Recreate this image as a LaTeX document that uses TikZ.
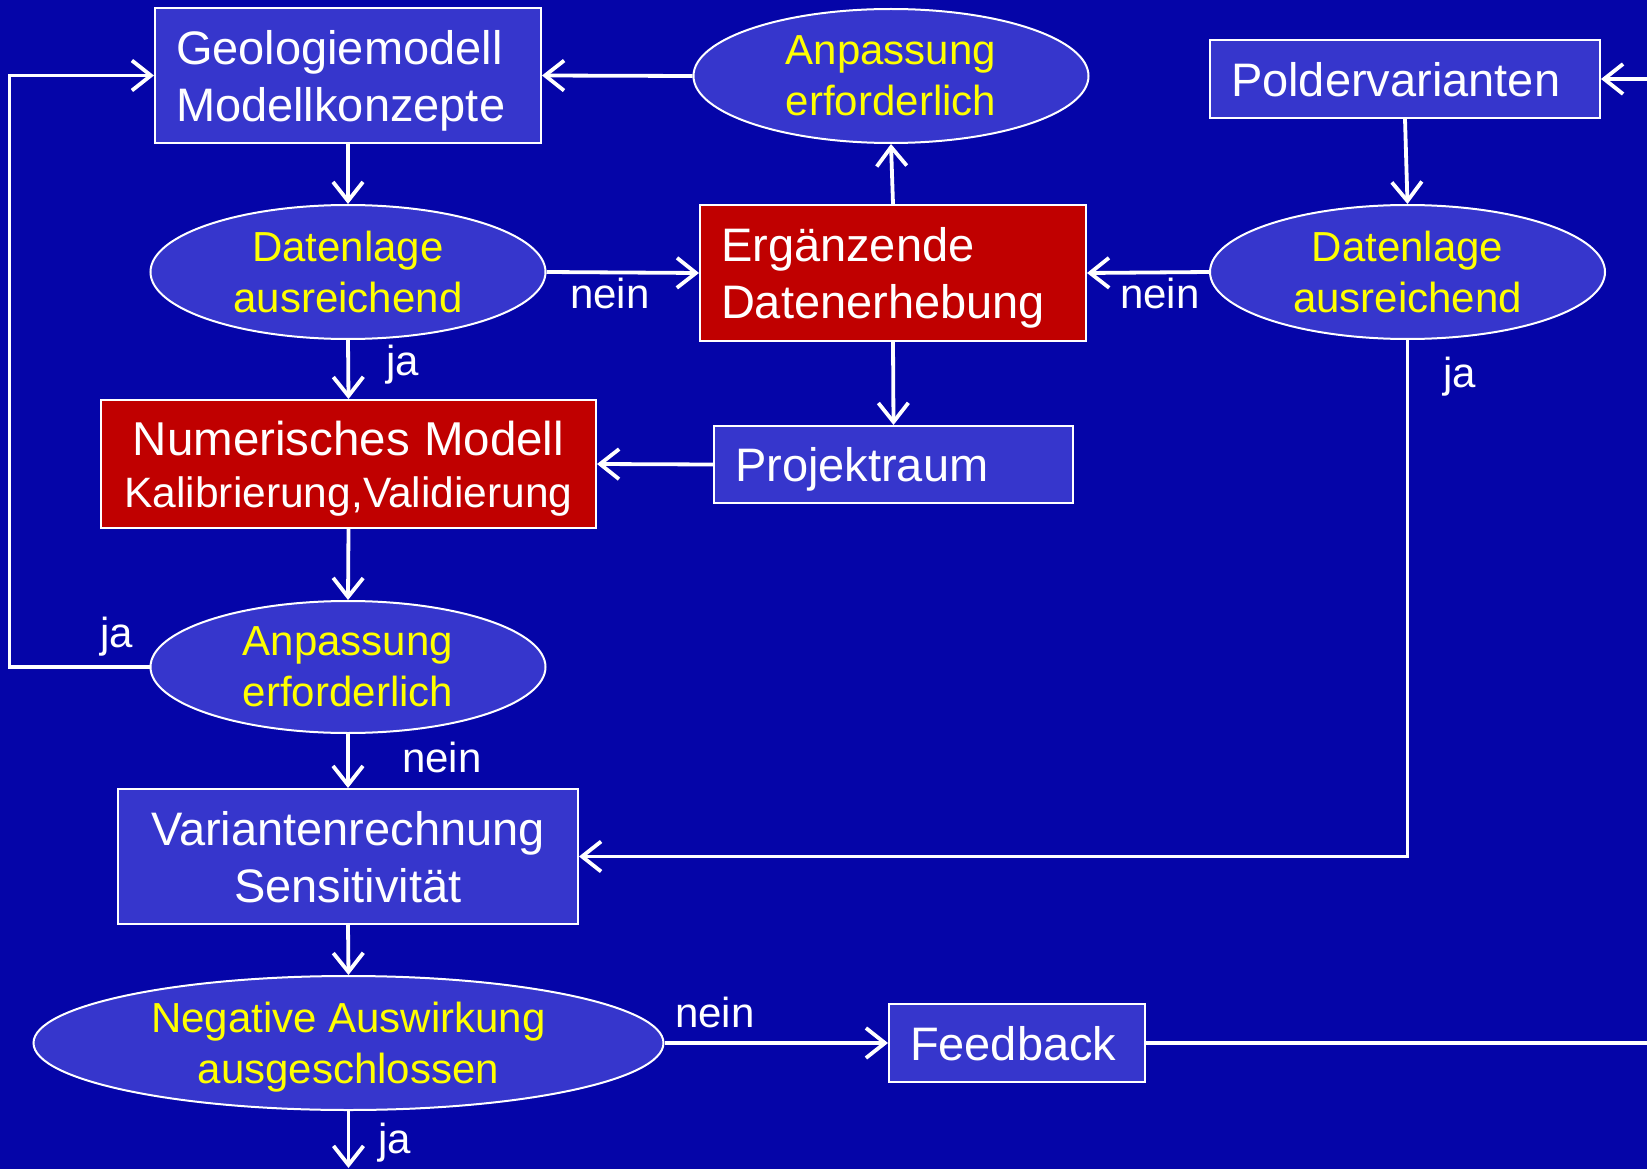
\documentclass[tikz,border=0pt]{standalone}
\usepackage{fontspec}
\setmainfont{Liberation Sans}
\usetikzlibrary{arrows.meta,shapes.geometric}
\definecolor{bg}{RGB}{5,5,168}
\definecolor{nodefill}{RGB}{54,54,204}
\definecolor{boxred}{RGB}{192,0,0}
\definecolor{ylw}{RGB}{255,255,0}
\begin{document}
\begin{tikzpicture}[x=1pt,y=-1pt,
  box/.style={rectangle,draw=white,line width=2pt,fill=nodefill,text=white,inner xsep=21pt,inner ysep=0pt,font=\fontsize{47}{57}\selectfont,text depth=0pt},
  twoline/.style={text depth=57pt},
  redbox/.style={box,fill=boxred},
  decision/.style={ellipse,draw=white,line width=2pt,fill=nodefill,text=ylw,inner sep=0pt,minimum width=395pt,minimum height=134pt,align=center,font=\fontsize{42}{51}\selectfont,text depth=0pt},
  conn/.style={draw=white,line width=3.8pt,-{Straight Barb[length=19pt,width=30pt]}},
  lbl/.style={text=white,font=\fontsize{42}{51}\selectfont,inner sep=0pt,anchor=base west}
]
\fill[bg] (0,0) rectangle (1647,1169);
\useasboundingbox (0,0) rectangle (1647,1169);
\clip (0,0) rectangle (1647,1169);

% nodes
\node[box,twoline,text width=344pt,align=left,minimum height=135pt] (geo) at (348,75.5) {Geologiemodell\\Modellkonzepte};
\node[decision] (anp1) at (891,76) {Anpassung\\erforderlich};
\node[box,text width=348pt,align=left,minimum height=78pt] (polder) at (1405,79) {Poldervarianten};
\node[decision] (dat1) at (348,272) {Datenlage\\ausreichend};
\node[redbox,twoline,text width=344pt,align=left,minimum height=136pt] (erg) at (893,273) {Ergänzende\\Datenerhebung};
\node[decision] (dat2) at (1407.5,272) {Datenlage\\ausreichend};
\node[redbox,text depth=52pt,text width=453pt,align=center,minimum height=128pt,font=\fontsize{42.5}{52}\selectfont] (num) at (348.5,464) {{\fontsize{47.5}{52}\selectfont Numerisches Modell}\\Kalibrierung,Validierung};
\node[box,text width=317pt,align=left,minimum height=77pt] (proj) at (893.5,464.5) {Projektraum};
\node[decision,minimum height=132pt] (anp2) at (348,667) {Anpassung\\erforderlich};
\node[box,twoline,text width=418pt,align=center,minimum height=135pt] (var) at (348,856.5) {Variantenrechnung\\Sensitivität};
\node[decision,minimum width=630pt] (neg) at (348.5,1043) {Negative Auswirkung\\ausgeschlossen};
\node[box,text width=214pt,align=left,minimum height=78pt] (feed) at (1017,1043) {Feedback};

% helper coordinates
\coordinate (bottomend) at (348.5,1168);
\coordinate (leftA) at (9.5,667);
\coordinate (leftB) at (9.5,75.5);
\coordinate (rightA) at (1652,1043);
\coordinate (rightB) at (1652,79);

% connectors
\draw[conn] (geo.south) -- (dat1.north);
\draw[conn] (dat1.south) -- (num.north);
\draw[conn] (dat1.east) -- (erg.west);
\draw[conn] (erg.north) -- (anp1.south);
\draw[conn] (anp1.west) -- (geo.east);
\draw[conn] (erg.south) -- (proj.north);
\draw[conn] (proj.west) -- (num.east);
\draw[conn] (polder.south) -- (dat2.north);
\draw[conn] (dat2.west) -- (erg.east);
\draw[conn] (dat2.south) |- (var.east);
\draw[conn] (num.south) -- (anp2.north);
\draw[conn] (anp2.west) -- (leftA) -- (leftB) -- (geo.west);
\draw[conn] (anp2.south) -- (var.north);
\draw[conn] (var.south) -- (neg.north);
\draw[conn] (neg.east) -- (feed.west);
\draw[conn] (feed.east) -- (rightA) -- (rightB) -- (polder.east);
\draw[conn] (neg.south) -- (bottomend);

% labels
\node[lbl] (l1) at (386,375) {ja};
\node[lbl] (l2) at (570,308) {nein};
\node[lbl] (l3) at (1120,308) {nein};
\node[lbl] (l4) at (1443,387) {ja};
\node[lbl] (l5) at (100,647) {ja};
\node[lbl] (l6) at (402,772) {nein};
\node[lbl] (l7) at (675,1027) {nein};
\node[lbl] (l8) at (378,1153) {ja};
\end{tikzpicture}
\end{document}
